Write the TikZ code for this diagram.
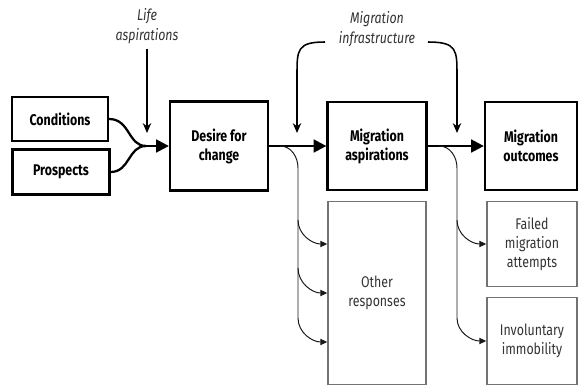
\documentclass[tikz,border=0pt]{standalone}
\usepackage{fontspec}
\setmainfont{Fira Sans}[FakeStretch=0.8]
\usepackage{tikz}
\usetikzlibrary{arrows.meta,positioning,calc}

\newcommand{\pu}{0.025cm}
\tikzset{
  mainbox/.style={draw, line width=1.6pt, inner sep=2pt, align=center,
    font=\bfseries\fontsize{11}{13.5}\selectfont},
  sidebox/.style={draw=black!55, line width=1pt, inner sep=2pt, align=center,
    font=\fontsize{11}{13.5}\selectfont, text=black!80},
  mainarrow/.style={line width=1.8pt, -{Triangle[length=9pt,width=9pt]}},
  sidearrow/.style={line width=0.7pt, black!90, -{Triangle[length=5pt,width=4.5pt]}},
  feed/.style={line width=1.1pt, -{Stealth[length=7pt,width=6pt]}},
  label/.style={font=\itshape\fontsize{11}{14}\selectfont, align=center, text=black!80}
}

\begin{document}
\begin{tikzpicture}[x=\pu, y=-\pu]
\useasboundingbox (0,0) rectangle (580,387);

% Boxes
\node[mainbox, minimum width=96*\pu, minimum height=44*\pu] (cond) at (60,119) {Conditions};
\node[mainbox, minimum width=97*\pu, minimum height=45*\pu] (prosp) at (61,172) {Prospects};
\node[mainbox, minimum width=98*\pu, minimum height=89*\pu] (desire) at (219,146) {Desire for\\change};
\node[mainbox, minimum width=99*\pu, minimum height=88*\pu] (aspir) at (377,146) {Migration\\aspirations};
\node[mainbox, minimum width=92*\pu, minimum height=88*\pu] (outc) at (531,146) {Migration\\outcomes};

\node[sidebox, minimum width=98*\pu, minimum height=183*\pu] (other) at (377,293) {Other\\responses};
\node[sidebox, minimum width=90*\pu, minimum height=85*\pu] (failed) at (532,244) {Failed\\migration\\attempts};
\node[sidebox, minimum width=90*\pu, minimum height=87*\pu] (invol) at (532,341) {Involuntary\\immobility};

% Labels
\node[label] (life) at (147,26) {Life\\aspirations};
\node[label] (infra) at (377,29) {Migration\\infrastructure};

% Merge into desire
\coordinate (merge) at (146,146);
\draw[line width=1.6pt] (cond.east) .. controls (130,119) and (128,146) .. (merge);
\draw[line width=1.6pt] (prosp.east) .. controls (130,172) and (128,146) .. (merge);
\draw[mainarrow] (merge) -- (desire.west);
\coordinate (lifeend) at (147,133);
\draw[feed] (life.south) -- (lifeend);

% Main line
\draw[mainarrow] (desire.east) -- (aspir.west);
\draw[mainarrow] (aspir.east) -- (outc.west);

% Migration infrastructure
\coordinate (infL) at (297,133);
\coordinate (infR) at (457,133);
\draw[feed] (325,42) .. controls (297,42) and (297,50) .. (297,75) -- (infL);
\draw[feed] (428,42) .. controls (457,42) and (457,50) .. (457,75) -- (infR);

% Branches to other responses
\draw[sidearrow, -] (280,146) to[out=0,in=90] (298,168) -- (298,318);
\draw[sidearrow] (298,318) to[out=-90,in=180] ($(other.west)+(0,49)$);
\draw[sidearrow] (298,220) to[out=-90,in=180] ($(other.west)+(0,-49)$);
\draw[sidearrow] (298,268) to[out=-90,in=180] (other.west);

% Branches to outcomes
\draw[sidearrow, -] (439,146) to[out=0,in=90] (457,168) -- (457,318);
\draw[sidearrow] (457,318) to[out=-90,in=180] (invol.west);
\draw[sidearrow] (457,220) to[out=-90,in=180] (failed.west);
\end{tikzpicture}
\end{document}
